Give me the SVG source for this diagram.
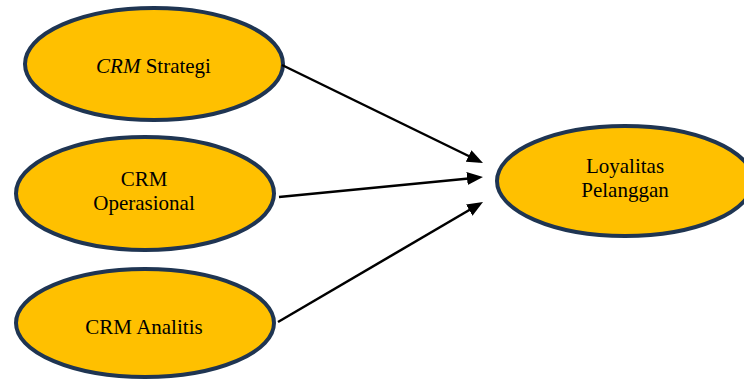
<svg xmlns="http://www.w3.org/2000/svg" width="744" height="381" viewBox="0 0 744 381">
<style>
.node ellipse{fill:#FFC000;stroke:#1F3552;stroke-width:4}
.node text{font-family:"Liberation Serif","Times New Roman",serif;font-size:21px;fill:#000;text-anchor:middle}
.conn line{stroke:#000;stroke-width:2.5;marker-end:url(#ah)}
</style>
<defs>
<marker id="ah" markerUnits="userSpaceOnUse" markerWidth="16" markerHeight="13" refX="12" refY="6.5" orient="auto">
<path d="M0,0 L16,6.5 L0,13 z" fill="#000"/>
</marker>
</defs>
<rect width="744" height="381" fill="#fff"/>
<g id="n1" class="node">
<ellipse cx="154" cy="64" rx="129" ry="56"/>
<text x="153.5" y="73"><tspan font-style="italic">CRM</tspan> Strategi</text>
</g>
<g id="n2" class="node">
<ellipse cx="145" cy="193.5" rx="129" ry="56.5"/>
<text x="144" y="186">CRM</text>
<text x="144" y="210">Operasional</text>
</g>
<g id="n3" class="node">
<ellipse cx="145" cy="323" rx="129" ry="54"/>
<text x="144" y="334">CRM Analitis</text>
</g>
<g id="n4" class="node">
<ellipse cx="625" cy="181" rx="128" ry="55"/>
<text x="625" y="173">Loyalitas</text>
<text x="625" y="197">Pelanggan</text>
</g>
<g id="connectors" class="conn">
<line x1="282" y1="65" x2="479.4" y2="161.25"/>
<line x1="279" y1="197" x2="479" y2="177.4"/>
<line x1="278" y1="322" x2="479.55" y2="204"/>
</g>
</svg>
